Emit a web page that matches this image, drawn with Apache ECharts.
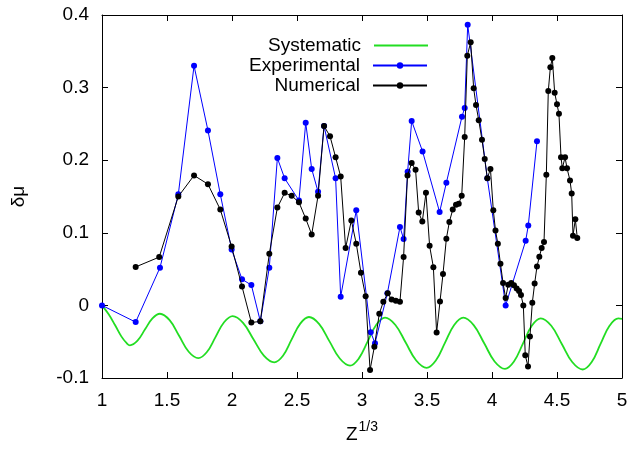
<!DOCTYPE html>
<html>
<head>
<meta charset="utf-8">
<script src="https://cdn.jsdelivr.net/npm/echarts@6/dist/echarts.min.js"></script>
<style>
  html, body { margin: 0; padding: 0; background: #fff; }
  #chart { width: 639px; height: 449px; }
</style>
</head>
<body>
<div id="chart"></div>
<script>
// Systematic shell-like oscillation (green curve), sampled along Z^(1/3)
const sysX = [1.0, 1.05, 1.1, 1.15, 1.19, 1.215,
              1.273, 1.33, 1.388, 1.446,
              1.52, 1.594, 1.667, 1.741,
              1.807, 1.873, 1.939, 2.005,
              2.085, 2.165, 2.245, 2.325,
              2.392, 2.458, 2.525, 2.592,
              2.671, 2.75, 2.829, 2.908,
              2.975, 3.043, 3.11, 3.177,
              3.257, 3.337, 3.417, 3.497,
              3.568, 3.638, 3.709, 3.779,
              3.859, 3.94, 4.02, 4.1,
              4.169, 4.238, 4.306, 4.375,
              4.456, 4.537, 4.617, 4.698,
              4.767, 4.835, 4.904, 4.972, 5.0];
const sysY = [0.0, -0.012, -0.027, -0.043, -0.052, -0.055,
              -0.0486, -0.0333, -0.0179, -0.0115,
              -0.0204, -0.0421, -0.0638, -0.0727,
              -0.0642, -0.0437, -0.0232, -0.0147,
              -0.0240, -0.0466, -0.0691, -0.0784,
              -0.0693, -0.0472, -0.0251, -0.016,
              -0.0258, -0.0495, -0.0732, -0.083,
              -0.0733, -0.050, -0.0266, -0.0169,
              -0.027, -0.0515, -0.0759, -0.086,
              -0.0759, -0.0515, -0.027, -0.0169,
              -0.0272, -0.0522, -0.0772, -0.0874,
              -0.0772, -0.0526, -0.028, -0.0178,
              -0.0281, -0.0531, -0.078, -0.0883,
              -0.078, -0.0531, -0.0281, -0.0178, -0.0185];

// Experimental values
const expX = [1.0, 1.259, 1.446, 1.587, 1.708, 1.815, 1.91, 1.997, 2.077, 2.149, 2.218, 2.287, 2.349, 2.405,
              2.515, 2.567, 2.613, 2.662, 2.708, 2.797, 2.836, 2.956, 3.067, 3.1, 3.195, 3.292, 3.32, 3.351,
              3.382, 3.466, 3.597, 3.649, 3.769, 3.79, 3.813, 3.964, 4.105, 4.259, 4.279, 4.346];
const expY = [0.0, -0.023, 0.052, 0.153, 0.330, 0.241, 0.153, 0.077, 0.036, 0.028, -0.022, 0.052, 0.203, 0.175,
              0.1445, 0.2515, 0.188, 0.1565, 0.247, 0.175, 0.012, 0.131, -0.037, -0.052, 0.0166, 0.108, 0.0915, 0.184,
              0.254, 0.212, 0.1285, 0.169, 0.26, 0.272, 0.3866, 0.175, 0.0, 0.089, 0.11, 0.226];

// Numerical values
const numX = [1.259, 1.44, 1.587, 1.708, 1.815, 1.91, 1.997, 2.077, 2.149, 2.218, 2.287, 2.349, 2.405, 2.459,
              2.515, 2.567, 2.613, 2.662, 2.708, 2.754, 2.797, 2.836, 2.874, 2.918, 2.956, 2.992, 3.028, 3.062,
              3.095, 3.133, 3.164, 3.198, 3.228, 3.26, 3.292, 3.32, 3.35, 3.382, 3.412, 3.436, 3.464, 3.492,
              3.52, 3.549, 3.574, 3.6, 3.623, 3.649, 3.672, 3.698, 3.723, 3.744, 3.767, 3.79, 3.81, 3.836,
              3.859, 3.877, 3.898, 3.923, 3.944, 3.964, 3.988, 4.01, 4.027, 4.045, 4.065, 4.085, 4.105, 4.125,
              4.148, 4.169, 4.19, 4.208, 4.223, 4.241, 4.256, 4.277, 4.292, 4.31, 4.328, 4.346, 4.364, 4.382,
              4.4, 4.418, 4.433, 4.449, 4.464, 4.482, 4.5, 4.515, 4.531, 4.541, 4.562, 4.577, 4.6, 4.613,
              4.623, 4.641, 4.656];
const numY = [0.053, 0.0665, 0.150, 0.179, 0.167, 0.132, 0.081, 0.026, -0.0236, -0.022, 0.071, 0.1347, 0.155, 0.151,
              0.142, 0.1196, 0.0977, 0.151, 0.247, 0.233, 0.204, 0.1775, 0.079, 0.117, 0.085, 0.045, 0.0125, -0.089,
              -0.057, -0.0115, 0.005, 0.0166, 0.008, 0.0063, 0.005, 0.0667, 0.179, 0.196, 0.187, 0.128, 0.1155, 0.155,
              0.082, 0.0527, -0.0374, 0.0054, 0.0433, 0.0919, 0.115, 0.132, 0.1387, 0.14, 0.151, 0.232, 0.344, 0.3625,
              0.299, 0.276, 0.255, 0.228, 0.2016, 0.175, 0.188, 0.131, 0.103, 0.085, 0.0575, 0.0308, 0.0103, 0.0286,
              0.0308, 0.0277, 0.0233, 0.0197, 0.0143, 0.0, -0.0686, -0.0843, -0.0428, 0.0036, 0.030, 0.0535, 0.0669, 0.079,
              0.0875, 0.18, 0.2952, 0.328, 0.3407, 0.293, 0.277, 0.264, 0.204, 0.189, 0.204, 0.189, 0.172, 0.154,
              0.096, 0.1187, 0.0928];

// Axis ticks
const xTicks = { min: 1, max: 5, step: 0.5 };
const yTicks = { min: -0.1, max: 0.4, step: 0.1 };

const zip = (xs, ys) => xs.map((x, i) => [x, ys[i]]);

const FONT = 'Liberation Sans';
const FS = 19;
const GREEN = '#22dd22';

const tickStyle = { inside: true, length: 6, lineStyle: { color: '#000', width: 1 } };
const lineStyleAxis = { onZero: false, lineStyle: { color: '#000', width: 1 } };

function legendFor(name, top, extra) {
  return Object.assign({
    data: [name],
    right: 211,
    top: top,
    orient: 'horizontal',
    align: 'right',
    itemWidth: 54,
    itemHeight: 8,
    padding: 0,
    selectedMode: false,
    textStyle: { fontFamily: FONT, fontSize: FS, color: '#000', padding: [0, 8, 0, 0] }
  }, extra || {});
}

const chart = echarts.init(document.getElementById('chart'), null, { renderer: 'canvas' });
chart.setOption({
  animation: false,
  backgroundColor: '#fff',
  grid: { left: 102, right: 17, top: 15, bottom: 60, containLabel: false },
  legend: [
    legendFor('Systematic', 36, {
      data: [{ name: 'Systematic', icon: 'rect' }],
      itemHeight: 2,
      itemStyle: { color: GREEN }
    }),
    legendFor('Experimental', 56),
    legendFor('Numerical', 76)
  ],
  xAxis: [
    {
      type: 'value', position: 'bottom',
      min: xTicks.min, max: xTicks.max, interval: xTicks.step,
      axisLine: lineStyleAxis, axisTick: tickStyle, splitLine: { show: false },
      axisLabel: { fontFamily: FONT, fontSize: FS, color: '#000', margin: 13 },
      name: '{z|Z}{s|1/3}',
      nameLocation: 'middle',
      nameGap: 42,
      nameTextStyle: {
        rich: {
          z: { fontFamily: FONT, fontSize: FS, color: '#000', lineHeight: 24, verticalAlign: 'bottom' },
          s: { fontFamily: FONT, fontSize: 14, color: '#000', lineHeight: 24, verticalAlign: 'bottom', padding: [0, 0, 10, 1] }
        }
      }
    },
    {
      type: 'value', position: 'top',
      min: xTicks.min, max: xTicks.max, interval: xTicks.step,
      axisLine: lineStyleAxis, axisTick: tickStyle, splitLine: { show: false },
      axisLabel: { show: false }
    }
  ],
  yAxis: [
    {
      type: 'value', position: 'left',
      min: yTicks.min, max: yTicks.max, interval: yTicks.step,
      axisLine: lineStyleAxis, axisTick: tickStyle, splitLine: { show: false },
      axisLabel: { fontFamily: FONT, fontSize: FS, color: '#000', margin: 13 },
      name: 'δμ',
      nameLocation: 'middle',
      nameGap: 74,
      nameRotate: 90,
      nameTextStyle: { fontFamily: FONT, fontSize: FS, color: '#000' }
    },
    {
      type: 'value', position: 'right',
      min: yTicks.min, max: yTicks.max, interval: yTicks.step,
      axisLine: lineStyleAxis, axisTick: tickStyle, splitLine: { show: false },
      axisLabel: { show: false }
    }
  ],
  series: [
    {
      name: 'Systematic', type: 'line',
      data: zip(sysX, sysY),
      smooth: 0.4,
      showSymbol: false, symbol: 'none',
      lineStyle: { color: GREEN, width: 1.8 },
      itemStyle: { color: GREEN },
      z: 2
    },
    {
      name: 'Experimental', type: 'line',
      data: zip(expX, expY),
      symbol: 'circle', symbolSize: 6,
      lineStyle: { color: '#0000ff', width: 1 },
      itemStyle: { color: '#0000ff' },
      z: 3
    },
    {
      name: 'Numerical', type: 'line',
      data: zip(numX, numY),
      symbol: 'circle', symbolSize: 6,
      lineStyle: { color: '#000000', width: 1 },
      itemStyle: { color: '#000000' },
      z: 4
    }
  ]
});
</script>
</body>
</html>
